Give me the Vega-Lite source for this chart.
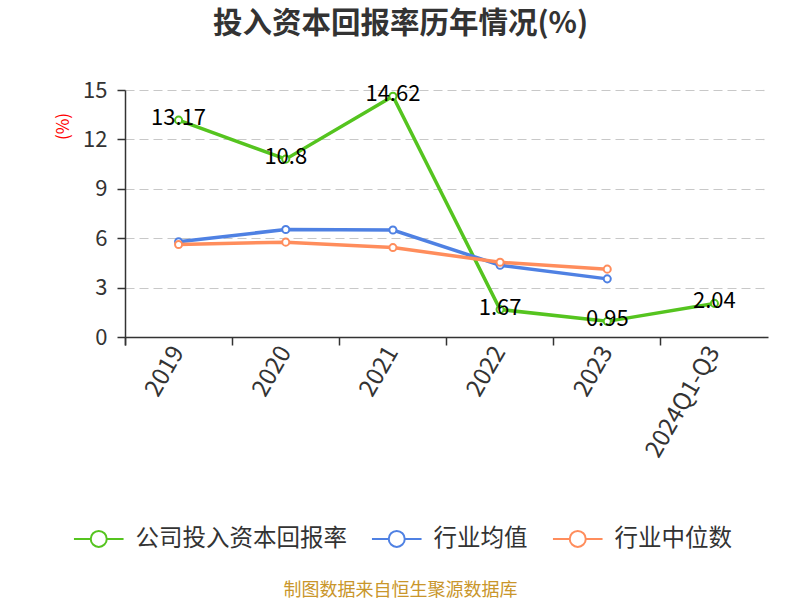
{
  "$schema": "https://vega.github.io/schema/vega-lite/v6.json",
  "width": 643,
  "height": 247,
  "autosize": {"type": "none"},
  "padding": {"left": 125, "top": 90, "right": 32, "bottom": 263},
  "background": "white",
  "view": {"stroke": null},
  "title": {
    "text": "投入资本回报率历年情况(%)",
    "font": "Noto Sans CJK SC",
    "fontSize": 29.5,
    "fontWeight": "bold",
    "color": "#333333",
    "anchor": "middle",
    "dx": -46,
    "offset": 40
  },
  "data": {
    "values": [
      {"year": "2019", "series": "公司投入资本回报率", "value": 13.17},
      {"year": "2020", "series": "公司投入资本回报率", "value": 10.8},
      {"year": "2021", "series": "公司投入资本回报率", "value": 14.62},
      {"year": "2022", "series": "公司投入资本回报率", "value": 1.67},
      {"year": "2023", "series": "公司投入资本回报率", "value": 0.95},
      {"year": "2024Q1-Q3", "series": "公司投入资本回报率", "value": 2.04},
      {"year": "2019", "series": "行业均值", "value": 5.78},
      {"year": "2020", "series": "行业均值", "value": 6.53},
      {"year": "2021", "series": "行业均值", "value": 6.5},
      {"year": "2022", "series": "行业均值", "value": 4.36},
      {"year": "2023", "series": "行业均值", "value": 3.53},
      {"year": "2019", "series": "行业中位数", "value": 5.62},
      {"year": "2020", "series": "行业中位数", "value": 5.76},
      {"year": "2021", "series": "行业中位数", "value": 5.43},
      {"year": "2022", "series": "行业中位数", "value": 4.54},
      {"year": "2023", "series": "行业中位数", "value": 4.12}
    ]
  },
  "encoding": {
    "x": {
      "field": "year",
      "type": "ordinal",
      "sort": ["2019", "2020", "2021", "2022", "2023", "2024Q1-Q3"],
      "scale": {"type": "band", "paddingInner": 0, "paddingOuter": 0},
      "bandPosition": 0.5,
      "axis": {
        "title": "制图数据来自恒生聚源数据库",
        "titleFont": "Noto Sans CJK SC",
        "titleFontSize": 18,
        "titleFontWeight": "normal",
        "titleColor": "#c9962b",
        "titleX": 275,
        "titleY": 253,
        "titleAlign": "center",
        "titleBaseline": "middle",
        "bandPosition": 0,
        "tickExtra": true,
        "ticks": true,
        "tickSize": 8,
        "tickWidth": 1.5,
        "tickColor": "#333333",
        "domainColor": "#333333",
        "domainWidth": 1.5,
        "labelAngle": -60,
        "labelFont": "Noto Sans CJK SC",
        "labelFontSize": 24,
        "labelColor": "#333333",
        "labelPadding": 3,
        "grid": false
      }
    },
    "y": {
      "field": "value",
      "type": "quantitative",
      "scale": {"domain": [0, 15], "nice": false},
      "axis": {
        "values": [0, 3, 6, 9, 12, 15],
        "title": "(%)",
        "titleColor": "#ff0000",
        "titleFont": "Noto Sans CJK SC",
        "titleFontSize": 17,
        "titleFontWeight": "normal",
        "titleX": -62,
        "titleY": 36,
        "titleAlign": "center",
        "titleBaseline": "middle",
        "labelFont": "Noto Sans CJK SC",
        "labelFontSize": 22,
        "labelColor": "#333333",
        "labelPadding": 10,
        "tickColor": "#333333",
        "tickSize": 8,
        "tickWidth": 1.5,
        "domainColor": "#333333",
        "domainWidth": 1.5,
        "grid": true,
        "gridColor": "#c8c8c8",
        "gridDash": [9, 5],
        "gridWidth": 1.2
      }
    }
  },
  "layer": [
    {
      "mark": {"type": "line", "strokeWidth": 3.5},
      "encoding": {
        "color": {
          "field": "series",
          "type": "nominal",
          "sort": ["公司投入资本回报率", "行业均值", "行业中位数"],
          "scale": {
            "domain": ["公司投入资本回报率", "行业均值", "行业中位数"],
            "range": ["#55c41f", "#4f81e3", "#ff8d5c"]
          },
          "legend": {
            "title": null,
            "orient": "none",
            "direction": "horizontal",
            "legendX": -38,
            "legendY": 437,
            "padding": 0,
            "symbolType": "M-3.1,0L-1,0M1,0L3.1,0M-1,0A1,1 0 1,0 1,0A1,1 0 1,0 -1,0",
            "symbolSize": 256,
            "symbolStrokeWidth": 2,
            "symbolFillColor": "white",
            "labelOffset": 25,
            "columnPadding": 20,
            "labelFont": "Noto Sans CJK SC",
            "labelFontSize": 23.5,
            "labelColor": "#333333",
            "labelLimit": 400
          }
        }
      }
    },
    {
      "mark": {"type": "point", "filled": false, "fill": "white", "fillOpacity": 1, "opacity": 1, "size": 50, "strokeWidth": 2},
      "encoding": {
        "color": {
          "field": "series",
          "type": "nominal",
          "sort": ["公司投入资本回报率", "行业均值", "行业中位数"]
        }
      }
    },
    {
      "transform": [{"filter": "datum.series === '公司投入资本回报率'"}],
      "mark": {"type": "text", "font": "Noto Sans CJK SC", "fontSize": 22, "color": "#000000", "baseline": "middle", "align": "center", "dy": -2},
      "encoding": {
        "text": {"field": "value", "type": "quantitative", "format": ".4~g"}
      }
    }
  ]
}
